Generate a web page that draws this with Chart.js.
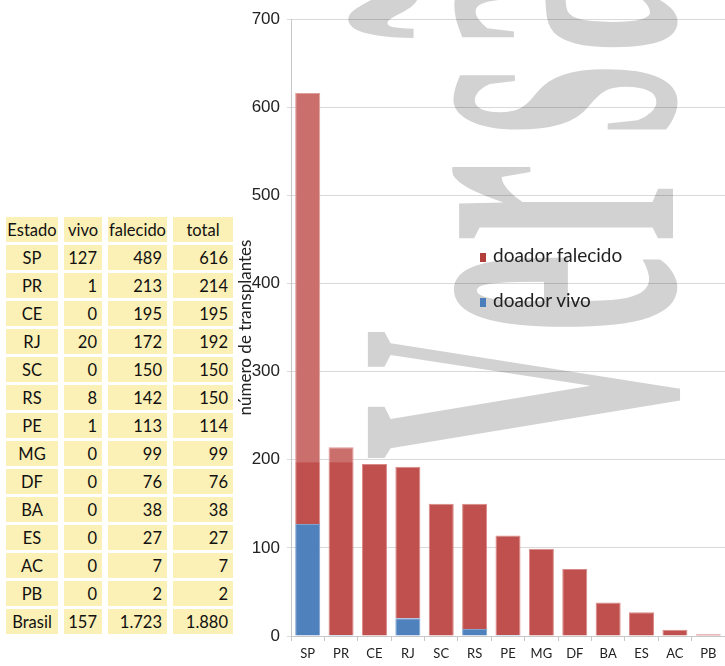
<!DOCTYPE html>
<html>
<head>
<meta charset="utf-8">
<script src="https://cdn.jsdelivr.net/npm/chart.js@4"></script>
<style>
  body { margin: 0; background: #fff; width: 725px; height: 666px; overflow: hidden; position: relative; font-family: Lato, 'Liberation Sans', sans-serif; }
  #tabela { position: absolute; left: 0; top: 214px; border-collapse: separate; border-spacing: 6px 3.6px; font-size: 16.5px; color: #111; table-layout: fixed; }
  #tabela td { background: #fbf0b6; height: 25px; padding: 0 5px 0 2px; box-sizing: border-box; white-space: nowrap; }
  #tabela td.c { text-align: center; padding: 0; }
  #tabela td.r { text-align: right; }
  #grafico { position: absolute; left: 235px; top: 0; width: 490px; height: 666px; }
  #legenda { position: absolute; left: 480px; top: 243px; font-size: 19px; color: #222; }
  #legenda div { height: 24px; margin-bottom: 21px; white-space: nowrap; }
  #legenda span.q { display: inline-block; width: 6px; height: 9px; margin-right: 7px; }
</style>
</head>
<body>
<table id="tabela">
  <colgroup><col style="width:52px"><col style="width:38px"><col style="width:59px"><col style="width:60px"></colgroup>
  <tbody id="corpo"></tbody>
</table>
<div id="grafico"><canvas id="transp"></canvas></div>
<div id="legenda"></div>
<script>
const colunas = ['Estado', 'vivo', 'falecido', 'total'];
const estados = ['SP', 'PR', 'CE', 'RJ', 'SC', 'RS', 'PE', 'MG', 'DF', 'BA', 'ES', 'AC', 'PB'];
const vivo = [127, 1, 0, 20, 0, 8, 1, 0, 0, 0, 0, 0, 0];
const falecido = [489, 213, 195, 172, 150, 142, 113, 99, 76, 38, 27, 7, 2];
const total = [616, 214, 195, 192, 150, 150, 114, 99, 76, 38, 27, 7, 2];
const linhaBrasil = ['Brasil', '157', '1.723', '1.880'];
const faixaClara = 197; // acima disso as barras aparecem mais claras na imagem

// tabela da esquerda
const corpo = document.getElementById('corpo');
let html = '<tr>' + colunas.map(c => '<td class="c">' + c + '</td>').join('') + '</tr>';
estados.forEach((e, i) => {
    html += '<tr><td class="c">' + e + '</td><td class="r">' + vivo[i] +
        '</td><td class="r">' + falecido[i] + '</td><td class="r">' + total[i] + '</td></tr>';
});
html += '<tr>' + linhaBrasil.map((v, i) => '<td class="' + (i == 0 ? 'c' : 'r') + '">' + v + '</td>').join('') + '</tr>';
corpo.innerHTML = html;

// legenda
document.getElementById('legenda').innerHTML =
    '<div><span class="q" style="background:#b33f3c"></span>doador falecido</div>' +
    '<div><span class="q" style="background:#4a7ebb"></span>doador vivo</div>';

// marca d'agua "Versão" atras das barras
const marcaLetras = ['V', 'e', 'r', 's', 'ã', 'o'];
const marcaPos = [460, 333, 243, 135, 53, -30];
const marca = {
    id: 'marca',
    beforeDraw(chart) {
        const c = chart.ctx;
        c.save();
        c.fillStyle = '#d2d2d2';
        c.font = 'bold 200px "Liberation Serif"';
        c.textAlign = 'left';
        c.textBaseline = 'alphabetic';
        marcaLetras.forEach((l, i) => {
            c.save();
            c.translate(673 - 235, marcaPos[i]);
            c.rotate(-Math.PI / 2);
            c.scale(0.9, 2.33);
            c.fillText(l, 0, 0);
            c.restore();
        });
        c.restore();
    },
    afterDatasetsDraw(chart) {
        const c = chart.ctx;
        const yTopo = chart.scales.y.getPixelForValue(faixaClara);
        c.save();
        c.fillStyle = 'rgba(255,255,255,0.18)';
        chart.getDatasetMeta(1).data.forEach(b => {
            if (b.y < yTopo) {
                const w = b.width;
                c.fillRect(b.x - w / 2, b.y, w, yTopo - b.y);
            }
        });
        c.restore();
    }
};

const ctx = document.getElementById('transp');

new Chart(ctx, {
    type: 'bar',
    data: {
        labels: estados,
        datasets: [{
            label: 'doador vivo',
            data: vivo,
            backgroundColor: '#4f81bd',
            borderColor: '#7fa3cf',
            borderWidth: 1
        }, {
            label: 'doador falecido',
            data: falecido,
            backgroundColor: '#c0504d',
            borderColor: '#d98a88',
            borderWidth: 1
        }]
    },
    options: {
        responsive: true,
        maintainAspectRatio: false,
        animation: false,
        datasets: {
            bar: { barPercentage: 0.75, categoryPercentage: 1 }
        },
        layout: { padding: { top: 19, right: 0, left: 0, bottom: 0 } },
        plugins: {
            legend: { display: false },
            tooltip: { enabled: false }
        },
        scales: {
            x: {
                stacked: true,
                grid: { display: true, drawOnChartArea: false, drawTicks: true, tickLength: 5, color: '#c8c8c8', offset: true },
                border: { color: '#c8c8c8' },
                ticks: { color: '#222', font: { family: 'Lato', size: 13 }, padding: 5, maxRotation: 0 },
                afterFit(s) { s.height = 30; }
            },
            y: {
                stacked: true,
                min: 0,
                max: 700,
                ticks: { stepSize: 100, color: '#222', font: { family: 'Liberation Sans', size: 17 }, padding: 7 },
                grid: { color: 'rgba(0,0,0,0.15)', drawTicks: true, tickLength: 4 },
                border: { color: '#c8c8c8' },
                title: {
                    display: true,
                    text: 'número de transplantes',
                    color: '#222',
                    font: { family: 'Lato', size: 17 },
                    padding: 0
                },
                afterFit(s) { s.width = 56; }
            }
        }
    },
    plugins: [marca]
});
</script>
</body>
</html>
